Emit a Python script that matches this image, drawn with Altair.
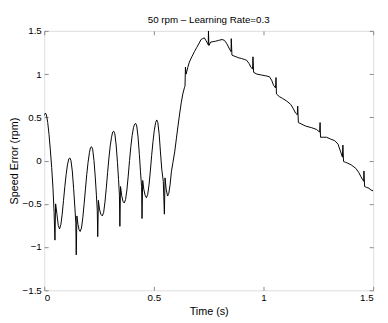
import altair as alt
import pandas as pd

# ---- data ----
time_s = [
    0.000, 0.005, 0.010, 0.016, 0.022, 0.028, 0.034, 0.040, 0.045, 0.049,
    0.052, 0.058, 0.064, 0.070, 0.076, 0.082, 0.088, 0.094, 0.100, 0.106,
    0.112, 0.117, 0.122, 0.128, 0.134, 0.140, 0.144, 0.146, 0.149, 0.154,
    0.159, 0.164, 0.170, 0.176, 0.182, 0.188, 0.194, 0.200, 0.206, 0.211,
    0.216, 0.221, 0.227, 0.233, 0.238, 0.242, 0.244, 0.247, 0.252, 0.258,
    0.265, 0.271, 0.277, 0.283, 0.289, 0.295, 0.301, 0.307, 0.312, 0.317,
    0.322, 0.328, 0.334, 0.339, 0.343, 0.345, 0.348, 0.353, 0.359, 0.365,
    0.371, 0.377, 0.383, 0.389, 0.395, 0.401, 0.407, 0.412, 0.417, 0.422,
    0.428, 0.434, 0.439, 0.444, 0.446, 0.449, 0.454, 0.460, 0.466, 0.472,
    0.478, 0.484, 0.490, 0.496, 0.502, 0.508, 0.513, 0.518, 0.524, 0.530,
    0.536, 0.543, 0.548, 0.551, 0.556, 0.5625, 0.568, 0.574, 0.580, 0.587,
    0.595, 0.603, 0.610, 0.618, 0.625, 0.632, 0.640, 0.642, 0.644, 0.647,
    0.655, 0.662, 0.673, 0.685, 0.696, 0.707, 0.715, 0.722, 0.730, 0.737,
    0.744, 0.748, 0.749, 0.751, 0.759, 0.770, 0.781, 0.795, 0.811, 0.822,
    0.833, 0.845, 0.852, 0.853, 0.856, 0.865, 0.875, 0.885, 0.900, 0.912,
    0.923, 0.935, 0.942, 0.950, 0.952, 0.955, 0.970, 0.990, 1.010, 1.027,
    1.037, 1.046, 1.055, 1.057, 1.059, 1.072, 1.086, 1.105, 1.124, 1.136,
    1.146, 1.154, 1.156, 1.159, 1.175, 1.191, 1.220, 1.242, 1.256, 1.258,
    1.260, 1.275, 1.287, 1.305, 1.325, 1.340, 1.352, 1.360, 1.362, 1.365,
    1.374, 1.384, 1.400, 1.421, 1.435, 1.443, 1.452, 1.457, 1.458, 1.461,
    1.470, 1.481, 1.490, 1.500,
]
speed_error = [
    0.52, 0.55, 0.53, 0.44, 0.30, 0.12, -0.08, -0.32, -0.60, -0.92,
    -0.50, -0.62, -0.75, -0.79, -0.74, -0.62, -0.46, -0.30, -0.16, -0.05,
    0.02, 0.03, 0.00, -0.12, -0.32, -0.55, -0.72, -1.09, -0.64, -0.74,
    -0.80, -0.82, -0.78, -0.66, -0.50, -0.33, -0.16, -0.02, 0.09, 0.15,
    0.16, 0.13, 0.00, -0.20, -0.40, -0.58, -0.88, -0.46, -0.56, -0.62,
    -0.64, -0.60, -0.48, -0.32, -0.14, 0.03, 0.17, 0.27, 0.33, 0.34,
    0.31, 0.18, -0.02, -0.22, -0.40, -0.76, -0.30, -0.40, -0.47, -0.49,
    -0.45, -0.34, -0.18, 0.00, 0.16, 0.29, 0.38, 0.42, 0.43, 0.40,
    0.27, 0.07, -0.13, -0.30, -0.67, -0.23, -0.33, -0.40, -0.43, -0.39,
    -0.28, -0.12, 0.06, 0.22, 0.35, 0.44, 0.47, 0.44, 0.31, 0.10,
    -0.10, -0.24, -0.62, -0.20, -0.33, -0.41, -0.38, -0.28, -0.13, -0.02,
    0.10, 0.26, 0.40, 0.55, 0.67, 0.77, 0.85, 0.86, 1.08, 1.00,
    1.08, 1.14, 1.20, 1.26, 1.31, 1.36, 1.40, 1.41, 1.42, 1.39,
    1.36, 1.34, 1.50, 1.33, 1.37, 1.375, 1.38, 1.39, 1.40, 1.39,
    1.35, 1.29, 1.26, 1.41, 1.22, 1.21, 1.20, 1.19, 1.18, 1.17,
    1.16, 1.12, 1.08, 1.06, 1.20, 1.02, 1.00, 0.99, 0.98, 0.97,
    0.93, 0.87, 0.84, 0.96, 0.77, 0.74, 0.72, 0.69, 0.65, 0.60,
    0.55, 0.53, 0.63, 0.44, 0.42, 0.40, 0.38, 0.36, 0.33, 0.44,
    0.27, 0.27, 0.27, 0.25, 0.23, 0.19, 0.10, 0.04, 0.18, -0.01,
    -0.02, -0.03, -0.05, -0.09, -0.14, -0.18, -0.22, -0.24, -0.12, -0.30,
    -0.31, -0.32, -0.34, -0.35,
]
x_ticks = [0, 0.5, 1, 1.5]
y_ticks = [-1.5, -1, -0.5, 0, 0.5, 1, 1.5]
x_domain = [0, 1.5]
y_domain = [-1.5, 1.5]
title_text = "50 rpm \u2013 Learning Rate=0.3"
x_title = "Time (s)"
y_title = "Speed Error (rpm)"

df = pd.DataFrame({"t": time_s, "e": speed_error})

FONT = "Liberation Sans"
xs = alt.Scale(domain=x_domain, nice=False, zero=False)
ys = alt.Scale(domain=y_domain, nice=False, zero=False)

main = alt.Chart(df).mark_line(color="black", strokeWidth=1, clip=True).encode(
    x=alt.X("t:Q", scale=xs,
            axis=alt.Axis(orient="bottom", values=x_ticks, format="~g", title=x_title,
                          offset=-4, tickSize=4, domain=False, grid=False,
                          labelPadding=2, titlePadding=4,
                          titleFontWeight="normal")),
    y=alt.Y("e:Q", scale=ys,
            axis=alt.Axis(orient="left", values=y_ticks, format="~g", title=y_title,
                          offset=-4, tickSize=4, domain=False, grid=False,
                          labelPadding=3, titlePadding=3,
                          titleFontWeight="normal")),
)

mirror = alt.Chart(df).mark_line(opacity=0).encode(
    x=alt.X("t:Q", scale=xs,
            axis=alt.Axis(orient="top", values=x_ticks, labels=False, title="",
                          offset=-4, tickSize=4, domain=False, grid=False)),
    y=alt.Y("e:Q", scale=ys,
            axis=alt.Axis(orient="right", values=y_ticks, labels=False, title="",
                          offset=-4, tickSize=4, domain=False, grid=False)),
)

chart = (
    alt.layer(main, mirror)
    .resolve_axis(x="independent", y="independent")
    .properties(
        width=336,
        height=265,
        title=alt.TitleParams(text=title_text, font=FONT, fontSize=10, fontWeight="normal",
                              color="black", anchor="middle", baseline="alphabetic",
                              offset=9, dy=16),
        autosize=alt.AutoSizeParams(type="none"),
        padding={"left": 37, "top": 20, "right": 7, "bottom": 28},
    )
    .configure_view(stroke="black", strokeWidth=1)
    .configure_axis(labelFont=FONT, labelFontSize=10, labelColor="black",
                    titleFont=FONT, titleFontSize=10, titleColor="black",
                    titleFontWeight="normal", tickColor="black", tickWidth=1)
    .configure(background="white")
)

chart.save("out.html", embed_options={"renderer": "svg", "actions": False})
